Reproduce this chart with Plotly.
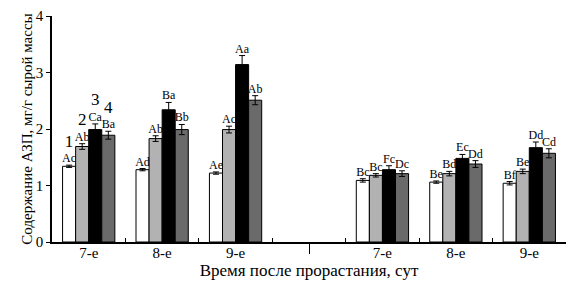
import plotly.graph_objects as go

# Data
positions = [0, 1, 2, 4, 5, 6]
cat_labels = ["7-е", "8-е", "9-е", "7-е", "8-е", "9-е"]

v1 = [1.34, 1.28, 1.22, 1.09, 1.06, 1.04]
v2 = [1.69, 1.83, 1.99, 1.18, 1.21, 1.25]
v3 = [1.99, 2.34, 3.14, 1.28, 1.48, 1.67]
v4 = [1.89, 1.99, 2.51, 1.21, 1.38, 1.57]

e1 = [0.02, 0.02, 0.02, 0.03, 0.02, 0.03]
e2 = [0.05, 0.05, 0.06, 0.03, 0.04, 0.04]
e3 = [0.10, 0.13, 0.16, 0.07, 0.07, 0.10]
e4 = [0.07, 0.09, 0.08, 0.05, 0.06, 0.08]

l1 = ["Ac", "Ad", "Ae", "Bc", "Be", "Bf"]
l2 = ["Ab", "Ab", "Ac", "Bc", "Bd", "Be"]
l3 = ["Ca", "Ba", "Aa", "Fc", "Ec", "Dd"]
l4 = ["Ba", "Bb", "Ab", "Dc", "Dd", "Cd"]

series_nums = ["1", "2", "3", "4"]

values = [v1, v2, v3, v4]
errors = [e1, e2, e3, e4]
labels = [l1, l2, l3, l4]
colors = ["#ffffff", "#b2b2b2", "#000000", "#6a6a6a"]

FONT = "Liberation Serif"
bar_w = 0.178

fig = go.Figure()
for i in range(4):
    off = (i - 2) * bar_w
    fig.add_trace(go.Bar(
        x=positions, y=values[i], width=bar_w, offset=off,
        marker=dict(color=colors[i], line=dict(color="black", width=1)),
        error_y=dict(type="data", array=errors[i], color="black", thickness=1, width=3),
        showlegend=False, hoverinfo="skip",
    ))

for i in range(4):
    off = (i - 1.5) * bar_w
    tops = [v + e for v, e in zip(values[i], errors[i])]
    texts = list(labels[i])
    texts[0] = f"<span style='font-size:17px'>{series_nums[i]}</span><br>{texts[0]}"
    fig.add_trace(go.Scatter(
        x=[p + off for p in positions], y=tops, mode="text", text=texts,
        textposition="top center", textfont=dict(family=FONT, size=12, color="black"),
        showlegend=False, hoverinfo="skip", cliponaxis=False,
    ))

# invisible trace for label axis
fig.add_trace(go.Scatter(x=positions, y=[None]*len(positions), xaxis="x2",
                         showlegend=False, hoverinfo="skip", mode="markers"))

fig.update_layout(
    width=578, height=284,
    margin=dict(l=44, r=20, t=8, b=50),
    plot_bgcolor="white", paper_bgcolor="white",
    barmode="overlay",
    font=dict(family=FONT, size=14, color="black"),
    xaxis=dict(
        range=[-0.5, 6.5], showline=True, linecolor="black", linewidth=1.5,
        tickvals=[3], ticktext=[""], ticks="outside", ticklen=10, tickcolor="black",
        minor=dict(tickvals=[0.5, 1.5, 2.5, 3.5, 4.5, 5.5], ticks="inside", ticklen=4, tickcolor="black"),
        showgrid=False, zeroline=False, automargin=False,
    ),
    xaxis2=dict(
        range=[-0.5, 6.5], overlaying="x", side="bottom", anchor="y",
        tickvals=positions, ticktext=cat_labels, ticks="", showline=False,
        showgrid=False, zeroline=False, tickfont=dict(size=15), automargin=False,
        title=dict(text="Время после прорастания, сут", font=dict(size=17), standoff=0),
    ),
    yaxis=dict(
        range=[0, 4], tickvals=[0, 1, 2, 3, 4], ticktext=["0", "1", "2", "3", "4"],
        showline=True, linecolor="black", linewidth=1.5, ticklabeloverflow="allow",
        ticks="outside", ticklen=4, tickcolor="black", showgrid=False, zeroline=False,
        tickfont=dict(size=15), automargin=False,
        title=dict(text="Содержание АЗП, мг/г сырой массы", font=dict(size=15), standoff=0),
    ),
)

fig.write_html("out.html")
